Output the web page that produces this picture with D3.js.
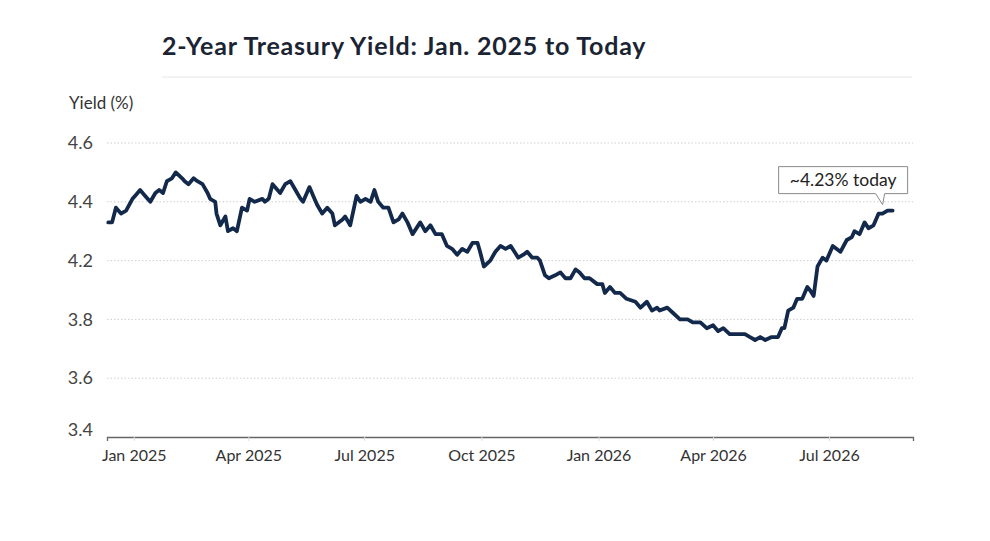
<!DOCTYPE html>
<html>
<head>
<meta charset="utf-8">
<script src="https://cdn.jsdelivr.net/npm/d3@7"></script>
<style>
  body { margin: 0; background: #fff; }
  svg { display: block; font-family: Lato, "Open Sans", sans-serif; }
</style>
</head>
<body>
<div id="chart"></div>
<script>
// 2-year yield
const dates = [
  "2024-12-12","2024-12-15","2024-12-18","2024-12-22","2024-12-26","2024-12-31",
  "2025-01-02","2025-01-06","2025-01-10","2025-01-14","2025-01-18","2025-01-21","2025-01-24","2025-01-27","2025-01-31",
  "2025-02-03","2025-02-08","2025-02-10","2025-02-13","2025-02-17","2025-02-20","2025-02-24","2025-02-28",
  "2025-03-02","2025-03-06","2025-03-07","2025-03-10","2025-03-14","2025-03-16","2025-03-20","2025-03-23","2025-03-27","2025-03-31",
  "2025-04-02","2025-04-06","2025-04-12","2025-04-14","2025-04-17","2025-04-20","2025-04-26","2025-04-30",
  "2025-05-04","2025-05-08","2025-05-12","2025-05-14","2025-05-19","2025-05-22","2025-05-25","2025-05-29",
  "2025-06-02","2025-06-06","2025-06-08","2025-06-14","2025-06-16","2025-06-20","2025-06-25","2025-06-28",
  "2025-07-02","2025-07-06","2025-07-09","2025-07-12","2025-07-16","2025-07-20","2025-07-24","2025-07-28","2025-07-31",
  "2025-08-04","2025-08-08","2025-08-14","2025-08-18","2025-08-22","2025-08-26","2025-08-31",
  "2025-09-04","2025-09-08","2025-09-12","2025-09-16","2025-09-20","2025-09-24","2025-09-28","2025-09-30",
  "2025-10-03","2025-10-08","2025-10-12","2025-10-16","2025-10-20","2025-10-24","2025-10-27","2025-10-30",
  "2025-11-03","2025-11-06","2025-11-10","2025-11-14","2025-11-16","2025-11-20","2025-11-23","2025-11-28",
  "2025-12-02","2025-12-06","2025-12-10","2025-12-14","2025-12-17","2025-12-21","2025-12-25","2025-12-31",
  "2026-01-04","2026-01-06","2026-01-10","2026-01-14","2026-01-18","2026-01-23","2026-01-30",
  "2026-02-03","2026-02-08","2026-02-12","2026-02-16","2026-02-18","2026-02-24",
  "2026-03-01","2026-03-06","2026-03-12","2026-03-16","2026-03-22","2026-03-27",
  "2026-04-01","2026-04-05","2026-04-09","2026-04-14","2026-04-20","2026-04-24","2026-04-26","2026-04-30",
  "2026-05-04","2026-05-08","2026-05-12","2026-05-17","2026-05-22","2026-05-25","2026-05-27","2026-05-30",
  "2026-06-03","2026-06-06","2026-06-10","2026-06-14","2026-06-16","2026-06-19","2026-06-22","2026-06-26","2026-06-29",
  "2026-07-04","2026-07-10","2026-07-15","2026-07-19","2026-07-21","2026-07-25","2026-07-29",
  "2026-08-01","2026-08-05","2026-08-09","2026-08-12","2026-08-16","2026-08-20"
];
const yields = [
  4.33,4.33,4.38,4.36,4.37,4.41,
  4.42,4.44,4.42,4.40,4.43,4.44,4.43,4.47,4.48,
  4.50,4.48,4.47,4.46,4.48,4.47,4.46,4.43,
  4.41,4.40,4.36,4.32,4.35,4.30,4.31,4.30,4.38,4.37,
  4.41,4.40,4.41,4.40,4.41,4.46,4.43,4.46,
  4.47,4.44,4.41,4.40,4.45,4.42,4.39,4.36,
  4.38,4.36,4.32,4.34,4.35,4.32,4.42,4.40,
  4.41,4.40,4.44,4.40,4.38,4.38,4.33,4.34,4.36,
  4.33,4.29,4.33,4.30,4.32,4.29,4.29,
  4.25,4.24,4.22,4.24,4.23,4.26,4.26,4.23,
  4.18,4.20,4.23,4.25,4.24,4.25,4.23,4.21,
  4.22,4.23,4.21,4.21,4.20,4.15,4.14,4.15,
  4.16,4.14,4.14,4.17,4.16,4.14,4.14,4.12,
  4.12,4.09,4.11,4.09,4.09,4.07,4.06,
  4.04,4.06,4.03,4.04,4.03,4.04,
  4.02,4.00,4.00,3.99,3.99,3.97,
  3.98,3.96,3.97,3.95,3.95,3.95,3.95,3.94,
  3.93,3.94,3.93,3.94,3.94,3.97,3.97,4.03,
  4.04,4.07,4.07,4.11,4.10,4.08,4.18,4.21,4.20,
  4.25,4.23,4.27,4.28,4.30,4.29,4.33,
  4.31,4.32,4.36,4.36,4.37,4.37
];

const yTickValues = [4.6, 4.4, 4.2, 4.0, 3.8, 3.6];
const yTickLabels = ["4.6", "4.4", "4.2", "3.8", "3.6", "3.4"];
const xTickDates = ["2025-01-01","2025-04-01","2025-07-01","2025-10-01","2026-01-01","2026-04-01","2026-07-01"];
const titleText = "2-Year Treasury Yield: Jan. 2025 to Today";
const yAxisTitle = "Yield (%)";
const calloutText = "~4.23% today";

(() => {
  const parse = d3.timeParse("%Y-%m-%d");
  const data = dates.map((d, i) => ({ date: parse(d), value: yields[i] }));

  const width = 990, height = 541;
  const plotLeft = 107, plotRight = 913, plotTop = 143, plotBottom = 437;

  const svg = d3.select("#chart").append("svg")
    .attr("width", width)
    .attr("height", height);

  // scales
  const x = d3.scaleTime()
    .domain([parse("2024-12-11"), parse("2026-09-05")])
    .range([plotLeft, plotRight]);

  const y = d3.scaleLinear()
    .domain([3.6, 4.6])
    .range([plotBottom, plotTop]);

  // title + rule under it
  svg.append("text")
    .attr("x", 162)
    .attr("y", 55)
    .attr("font-size", 25)
    .attr("font-weight", 700)
    .attr("letter-spacing", 0.8)
    .attr("fill", "#1b2433")
    .text(titleText);

  svg.append("line")
    .attr("x1", 162).attr("x2", 912)
    .attr("y1", 77).attr("y2", 77)
    .attr("stroke", "#e6e6e6")
    .attr("stroke-width", 1);

  svg.append("text")
    .attr("x", 69)
    .attr("y", 109)
    .attr("font-size", 17)
    .attr("fill", "#333")
    .text(yAxisTitle);

  // gridlines (dotted), not at the baseline
  svg.append("g")
    .selectAll("line")
    .data(yTickValues.filter(v => v > 3.6))
    .join("line")
    .attr("x1", plotLeft).attr("x2", plotRight)
    .attr("y1", d => y(d)).attr("y2", d => y(d))
    .attr("stroke", "#cfcfcf")
    .attr("stroke-dasharray", "1.5,2");

  // y axis labels
  const yAxis = svg.append("g")
    .attr("transform", "translate(" + (plotLeft - 11) + ",0)")
    .call(d3.axisLeft(y)
      .tickValues(yTickValues)
      .tickSize(0)
      .tickFormat((d, i) => yTickLabels[i]));
  yAxis.select(".domain").remove();
  yAxis.selectAll("text")
    .attr("font-size", 18)
    .attr("font-family", "Lato, sans-serif")
    .attr("fill", "#444")
    .attr("dy", (d, i) => i === yTickValues.length - 1 ? "-0.1em" : "0.32em");

  // x axis
  const xAxis = svg.append("g")
    .attr("transform", "translate(0," + plotBottom + ")")
    .call(d3.axisBottom(x)
      .tickValues(xTickDates.map(parse))
      .tickSize(4)
      .tickPadding(9)
      .tickFormat(d3.timeFormat("%b %Y")));
  xAxis.select(".domain")
    .attr("stroke", "#666")
    .attr("stroke-width", 1.3);
  xAxis.selectAll(".tick line").attr("stroke", "#ddd");
  xAxis.selectAll("text")
    .attr("font-size", 16)
    .attr("font-family", "Lato, sans-serif")
    .attr("fill", "#333");

  // yield line
  const line = d3.line()
    .x(d => x(d.date))
    .y(d => y(d.value));

  svg.append("path")
    .datum(data)
    .attr("d", line)
    .attr("fill", "none")
    .attr("stroke", "#13294b")
    .attr("stroke-width", 3.8)
    .attr("stroke-linejoin", "round")
    .attr("stroke-linecap", "round");

  // callout on the last point
  const last = data[data.length - 1];
  const px = x(last.date), py = y(last.value);
  const bw = 129, bh = 27;
  const bx = px - 114, by = py - 44;

  const callout = svg.append("g");
  callout.append("path")
    .attr("d", "M" + bx + "," + by +
      "h" + bw + "v" + bh +
      "H" + (bx + 106) +
      "L" + (px - 10) + "," + (py - 6) +
      "L" + (bx + 97) + "," + (by + bh) +
      "H" + bx + "Z")
    .attr("fill", "#fff")
    .attr("stroke", "#8a8a8a")
    .attr("stroke-width", 1);
  callout.append("text")
    .attr("x", bx + bw / 2)
    .attr("y", by + bh / 2)
    .attr("dy", "0.35em")
    .attr("text-anchor", "middle")
    .attr("font-size", 17.5)
    .attr("fill", "#222")
    .text(calloutText);
})();
</script>
</body>
</html>
